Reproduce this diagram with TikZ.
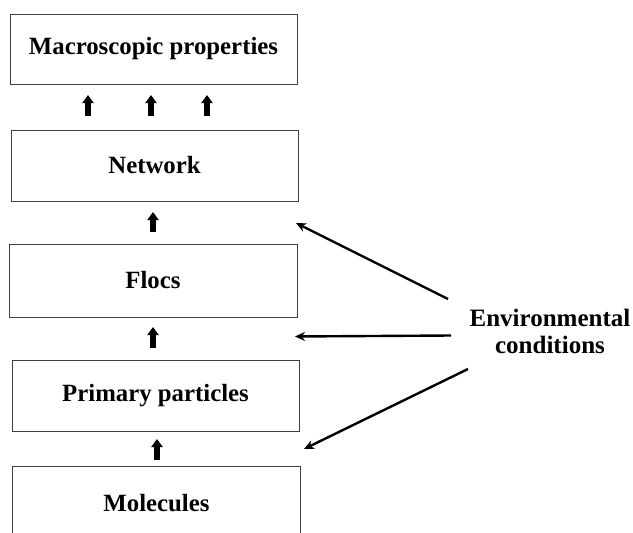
\documentclass[tikz,border=0pt]{standalone}
\usepackage{fontspec}
\setmainfont{Liberation Serif}
\usetikzlibrary{arrows.meta}
\begin{document}
\begin{tikzpicture}[x=1pt,y=-1pt,
  levelbox/.style={draw=black!75, line width=1pt, minimum width=287pt, inner sep=0pt,
    font=\fontsize{24.8}{26}\selectfont\bfseries},
  uparrow/.style={-{Triangle[width=11pt,length=8pt]}, line width=6.5pt, shorten >=-1pt},
  envarrow/.style={-{Stealth[length=10pt,width=9pt]}, line width=2.4pt},
  envtext/.style={font=\fontsize{25}{27.5}\selectfont\bfseries, align=center, inner sep=0pt}]
\useasboundingbox[fill=white] (0,0) rectangle (633,533);
\clip (0,0) rectangle (633,533);
\node[levelbox, minimum height=70pt] (macro) at (153.5,49) {Macroscopic properties};
\node[levelbox, minimum height=71pt] (net) at (154.5,165.5) {Network};
\node[levelbox, minimum height=73pt, minimum width=288pt] (flocs) at (153,280.5) {Flocs};
\node[levelbox, minimum height=71pt] (prim) at (155.5,395.5) {Primary particles};
\node[levelbox, draw=none, minimum height=72pt] (mol) at (156.5,503) {Molecules};
\draw[draw=black!75, line width=1pt] (mol.south west) -- (mol.north west) -- (mol.north east) -- (mol.south east);
% block arrows
\coordinate (a1s) at (88,116); \coordinate (a1e) at (88,96);
\coordinate (a2s) at (151,116); \coordinate (a2e) at (151,96);
\coordinate (a3s) at (207,116); \coordinate (a3e) at (207,96);
\coordinate (a4s) at (153,232); \coordinate (a4e) at (153,213);
\coordinate (a5s) at (153,348); \coordinate (a5e) at (153,328);
\coordinate (a6s) at (157,460); \coordinate (a6e) at (157,440);
\foreach \i in {1,...,6} \draw[uparrow] (a\i s) -- (a\i e);
% environmental conditions
\node[envtext] (env) at (550,331.3) {Environmental\\conditions};
\coordinate (e1s) at (448,299); \coordinate (e1e) at (296,223);
\coordinate (e2s) at (451,335.5); \coordinate (e2e) at (295,336.5);
\coordinate (e3s) at (468,369); \coordinate (e3e) at (304,449);
\foreach \i in {1,2,3} \draw[envarrow] (e\i s) -- (e\i e);
\end{tikzpicture}
\end{document}
